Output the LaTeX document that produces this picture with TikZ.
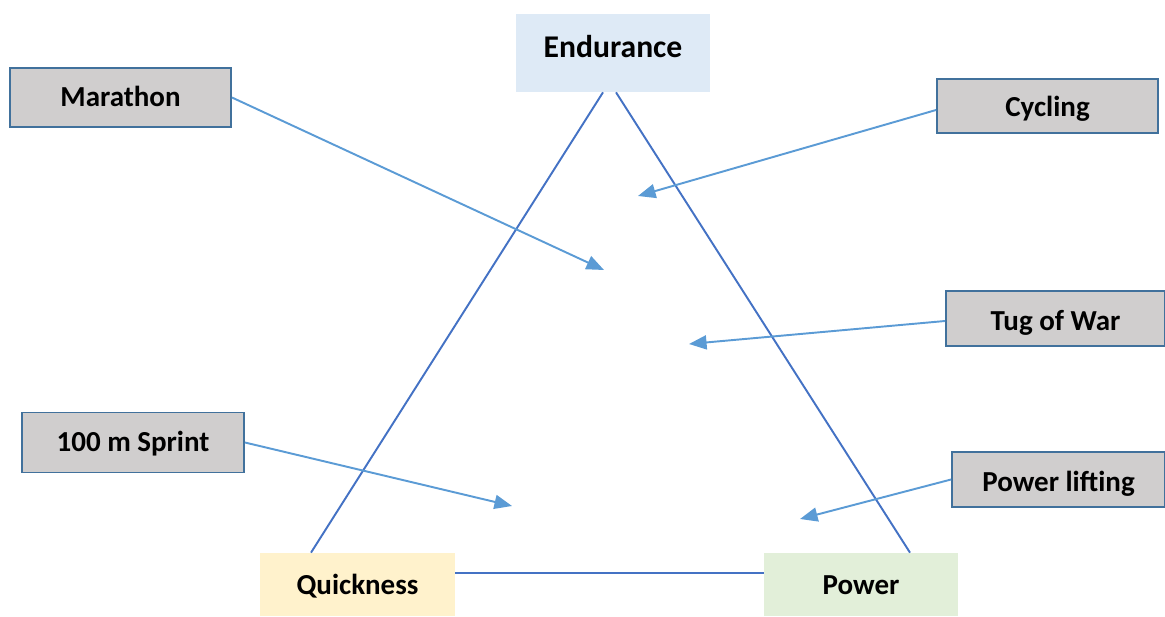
\documentclass[tikz,border=0pt]{standalone}
\usepackage{fontspec}
\setmainfont{Carlito}
\usepackage{xcolor}
\usepackage{tikz}
\usetikzlibrary{arrows.meta, calc}

\definecolor{endblue}{HTML}{DEEAF6}
\definecolor{quickyel}{HTML}{FFF2CC}
\definecolor{powgreen}{HTML}{E2EFD9}
\definecolor{boxgray}{HTML}{D0CECE}
\definecolor{boxline}{HTML}{41719C}
\definecolor{sideblue}{HTML}{4472C4}
\definecolor{arrblue}{HTML}{5B9BD5}

\begin{document}
\begin{tikzpicture}[
    x=0.02cm, y=-0.02cm,
    every node/.style={font=\fontsize{16.5}{19}\selectfont\bfseries, inner sep=0pt, text depth=0pt, text height=0.38cm},
    corner/.style={minimum width=3.88cm, minimum height=1.26cm},
    sport/.style={draw=boxline, line width=1.1pt, fill=boxgray, minimum width=4.42cm, minimum height=1.1cm},
    side/.style={draw=sideblue, line width=1.1pt},
    arr/.style={draw=arrblue, line width=1.1pt, -{Triangle[length=10pt, width=8pt]}}
]
\useasboundingbox (0,0) rectangle (1165,617);

% corners of the triangle
\node (endur) [corner, fill=endblue, minimum height=1.56cm, font=\fontsize{18}{21}\selectfont\bfseries, text height=0.19cm] at (613,53) {Endurance};
\node (quick) [corner, fill=quickyel, minimum width=3.9cm] at (357.5,584.5) {Quickness};
\node (power) [corner, fill=powgreen] at (861,584.5) {Power};

\draw[side] ($(endur.south)+(-10,0)$) -- ($(quick.north)+(-46.5,0)$);
\draw[side] ($(endur.south)+(3,0)$) -- ($(power.north)+(49,0)$);
\draw[side] ($(quick.east)+(0,-11.5)$) -- ($(power.west)+(0,-11.5)$);

% sports
\node (marathon) [sport, minimum height=1.18cm] at (120.5,97.5) {Marathon};
\node (cycling) [sport, minimum height=1.08cm, text height=0.44cm] at (1047.5,106) {Cycling};
\node (tug) [sport, minimum width=4.38cm, text height=0.48cm] at (1055.5,318.5) {Tug of War};
\node (sprint) [sport, minimum width=4.44cm, minimum height=1.2cm] at (133,442.5) {100 m Sprint};
\node (lifting) [sport, minimum width=4.26cm, text height=0.48cm] at (1058.5,479.5) {Power lifting};

\coordinate (pmar) at (604,270);
\coordinate (pcyc) at (638,196);
\coordinate (ptug) at (689,344);
\coordinate (pspr) at (512,506);
\coordinate (plif) at (800,519);

\draw[arr] (marathon.east) -- (pmar);
\draw[arr] ($(cycling.west)+(0,4)$) -- (pcyc);
\draw[arr] ($(tug.west)+(0,2.5)$) -- (ptug);
\draw[arr] (sprint.east) -- (pspr);
\draw[arr] (lifting.west) -- (plif);
\end{tikzpicture}
\end{document}
